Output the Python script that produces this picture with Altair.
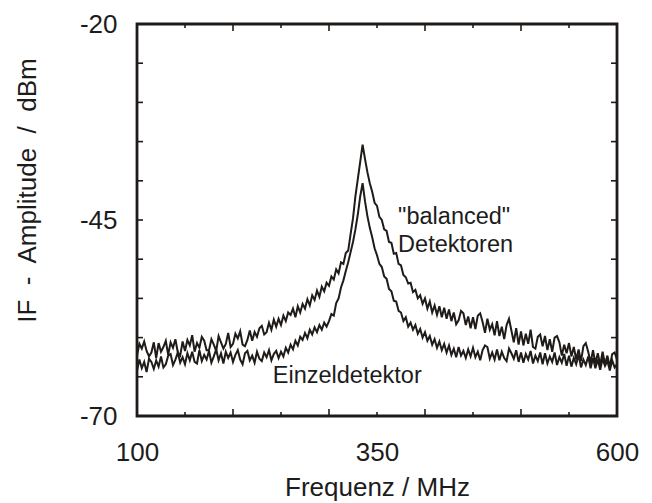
import altair as alt
import pandas as pd

# frequency grid (MHz), 2.5 MHz spacing
freq = [100 + 2.5 * i for i in range(201)]

# upper curve (broader, higher)  -- dBm
balanced = [
    -62.3, -60.8, -61.4, -60.5, -61.7, -62.4, -61.9, -60.6, -62.6, -60.7,
    -61.8, -61.2, -60.4, -62.2, -60.6, -61.3, -60.2, -61.9, -62.3, -60.5,
    -61.7, -60.3, -61.0, -59.7, -61.8, -60.7, -61.3, -59.9, -60.4, -61.6,
    -61.6, -60.2, -60.9, -61.7, -59.8, -60.6, -61.4, -60.8, -59.4, -61.2,
    -60.8, -59.5, -60.1, -59.2, -60.9, -61.1, -60.3, -59.1, -60.4, -59.3,
    -59.9, -58.8, -58.5, -59.6, -59.3, -58.1, -59.0, -57.7, -58.6, -57.6,
    -58.4, -57.2, -57.9, -56.8, -57.1, -56.3, -57.4, -56.0, -56.8, -55.7,
    -56.3, -55.1, -55.9, -54.6, -55.2, -54.0, -54.8, -53.5, -54.1, -53.0,
    -53.4, -52.2, -52.6, -51.3, -51.8, -50.4, -50.6, -49.2, -48.9, -46.8,
    -44.8, -42.0, -39.8, -37.6, -35.4, -37.2, -38.9, -40.3, -41.4, -42.8,
    -43.2, -44.6, -45.0, -46.2, -46.4, -47.8, -47.9, -49.3, -49.2, -50.6,
    -50.8, -52.0, -52.3, -53.1, -53.0, -54.2, -53.9, -55.0, -54.6, -55.7,
    -55.0, -56.3, -55.4, -56.8, -55.9, -57.1, -56.0, -57.4, -56.2, -57.6,
    -56.4, -57.9, -56.8, -58.3, -57.8, -56.6, -56.9, -58.4, -57.3, -58.8,
    -57.4, -58.9, -57.2, -56.9, -58.0, -59.4, -57.6, -59.0, -58.3, -59.7,
    -57.9, -59.8, -58.6, -60.2, -58.4, -57.6, -59.1, -60.6, -58.8, -60.9,
    -59.2, -61.0, -59.5, -60.8, -59.0, -61.2, -61.4, -59.9, -59.6, -61.1,
    -59.8, -61.6, -60.2, -61.8, -60.0, -59.8, -60.6, -62.3, -60.9, -62.0,
    -60.7, -62.4, -61.2, -62.8, -61.5, -63.0, -61.1, -60.7, -61.8, -63.2,
    -61.6, -63.3, -62.0, -63.5, -61.8, -63.4, -62.3, -63.7, -62.1, -61.9, -62.8,
]

# lower curve (narrower)  -- dBm
einzel = [
    -64.2, -62.8, -63.9, -63.1, -64.4, -62.7, -63.1, -64.0, -62.9, -63.7,
    -62.4, -63.8, -63.4, -62.3, -62.1, -63.5, -62.8, -61.9, -63.2, -62.5,
    -63.4, -62.0, -62.9, -61.8, -63.1, -63.3, -61.6, -63.0, -62.2, -62.8,
    -61.7, -63.2, -62.4, -61.5, -62.9, -62.0, -63.3, -61.8, -62.6, -61.9,
    -63.1, -62.2, -61.6, -62.8, -63.4, -62.0, -61.7, -62.9, -62.3, -63.2,
    -61.8, -62.7, -63.0, -61.9, -62.5, -61.6, -62.9, -62.1, -61.7, -62.6,
    -61.8, -62.4, -61.3, -61.9, -60.9, -61.5, -60.4, -61.0, -59.9, -60.3,
    -59.4, -60.1, -59.0, -59.6, -58.7, -59.3, -58.4, -59.0, -58.1, -58.6,
    -57.9, -57.0, -57.2, -55.6, -55.0, -53.6, -52.7, -51.5, -50.4, -49.1,
    -47.8, -46.2, -44.3, -42.0, -40.3, -42.6, -44.5, -46.0, -47.2, -48.6,
    -49.5, -50.6, -51.0, -52.2, -52.5, -53.8, -54.1, -55.3, -55.4, -56.6,
    -56.8, -57.9, -57.4, -58.6, -58.1, -59.0, -58.4, -59.5, -58.9, -60.0,
    -59.3, -60.4, -59.8, -60.9, -60.2, -61.3, -60.5, -61.6, -60.8, -61.9,
    -61.0, -62.2, -61.4, -62.5, -61.2, -62.3, -61.7, -62.6, -61.5, -62.4,
    -61.3, -62.5, -61.8, -62.9, -61.6, -61.0, -61.2, -62.7, -61.9, -62.8,
    -61.5, -62.9, -61.8, -62.6, -63.0, -61.4, -62.0, -62.7, -61.6, -63.1,
    -61.9, -63.2, -62.1, -62.8, -61.7, -63.3, -62.3, -63.0, -61.9, -63.4,
    -62.0, -63.3, -62.4, -63.1, -61.9, -63.5, -62.5, -63.2, -62.1, -63.6,
    -62.3, -63.7, -62.6, -63.4, -62.2, -63.8, -62.8, -63.5, -62.4, -63.9,
    -62.6, -63.9, -62.8, -64.1, -62.7, -63.6, -63.0, -64.2, -62.9, -63.8, -63.4,
]

assert len(balanced) == len(freq) == len(einzel)

x_labels = [100, 350, 600]
y_labels = [-20, -45, -70]
x_ticks_long = [200, 300, 400, 500]
x_ticks_short = [150, 250, 350, 450, 550]
y_ticks = [-25, -30, -35, -40, -45, -50, -55, -60, -65]

ann_text = ['"balanced"', "Detektoren", "Einzeldetektor"]
ann_x = [372, 372, 319]
ann_y = [-44.6, -48.2, -64.9]
ann_align = ["left", "left", "center"]

W, H = 480, 392
INK = "#1f1b19"
FONT = "Liberation Sans"
MINUS_FIX = "replace(datum.label, '\u2212', '-')"

df = pd.concat([
    pd.DataFrame({"f": freq, "a": balanced, "s": "balanced"}),
    pd.DataFrame({"f": freq, "a": einzel, "s": "einzel"}),
])

xs = alt.Scale(domain=[100, 600], nice=False, zero=False)
ys = alt.Scale(domain=[-70, -20], nice=False, zero=False)

x_axis = alt.Axis(
    values=x_labels, ticks=False, tickSize=0, domain=False, grid=False,
    labelFontSize=26, labelFont=FONT, labelColor="#1c1c1c", labelPadding=23,
    labelFlush=False, labelOverlap=False,
    title="Frequenz / MHz", titleFontSize=26, titleFont=FONT,
    titleFontWeight="normal", titleColor="#1c1c1c",
    titleX=240, titleY=71, titleBaseline="middle", titleAlign="center")
y_axis = alt.Axis(
    values=y_labels, ticks=False, tickSize=0, domain=False, grid=False,
    labelFontSize=26, labelFont=FONT, labelColor="#1c1c1c", labelPadding=20,
    labelFlush=False, labelOverlap=False, labelExpr=MINUS_FIX,
    title="IF\u00a0 -\u00a0 Amplitude\u00a0 /\u00a0 dBm", titleFontSize=26,
    titleFont=FONT, titleFontWeight="normal", titleColor="#1c1c1c",
    titleAngle=270, titleX=-110, titleY=166, titleBaseline="middle",
    titleAlign="center")

lines = alt.Chart(df).mark_line(color=INK, strokeWidth=2.0, clip=True).encode(
    x=alt.X("f:Q", scale=xs, axis=x_axis),
    y=alt.Y("a:Q", scale=ys, axis=y_axis),
    detail="s:N",
)

def xtick_layer(vals, y0, y1):
    return alt.Chart(pd.DataFrame({"f": vals})).mark_rule(
        color=INK, strokeWidth=1.6).encode(
        x=alt.X("f:Q", scale=xs, axis=x_axis),
        y=alt.value(y0), y2=alt.value(y1))

def ytick_layer(vals, x0, x1):
    return alt.Chart(pd.DataFrame({"a": vals})).mark_rule(
        color=INK, strokeWidth=1.6).encode(
        y=alt.Y("a:Q", scale=ys, axis=y_axis),
        x=alt.value(x0), x2=alt.value(x1))

ticks = [
    xtick_layer(x_ticks_long, H, H - 7),
    xtick_layer(x_ticks_short, H, H - 4),
    xtick_layer(x_ticks_long, 0, 7),
    xtick_layer(x_ticks_short, 0, 4),
    ytick_layer(y_ticks, 0, 6),
    ytick_layer(y_ticks, W, W - 6),
]

ann = pd.DataFrame({"t": ann_text, "f": ann_x, "a": ann_y, "al": ann_align})
ann_left = alt.Chart(ann[ann.al == "left"]).mark_text(
    align="left", baseline="middle", font=FONT, fontSize=23.5, color="#1c1c1c"
).encode(x=alt.X("f:Q", scale=xs, axis=x_axis),
         y=alt.Y("a:Q", scale=ys, axis=y_axis), text="t:N")
ann_center = alt.Chart(ann[ann.al == "center"]).mark_text(
    align="center", baseline="middle", font=FONT, fontSize=23.5, color="#1c1c1c"
).encode(x=alt.X("f:Q", scale=xs, axis=x_axis),
         y=alt.Y("a:Q", scale=ys, axis=y_axis), text="t:N")

chart = alt.layer(lines, *ticks, ann_left, ann_center).properties(
    width=W, height=H,
    autosize=alt.AutoSizeParams(type="none"),
    padding={"left": 137, "top": 24, "right": 35, "bottom": 87},
    background="white",
).configure_view(stroke=INK, strokeWidth=2.8)

chart.save("out.html", embed_options={"renderer": "svg", "actions": False})
